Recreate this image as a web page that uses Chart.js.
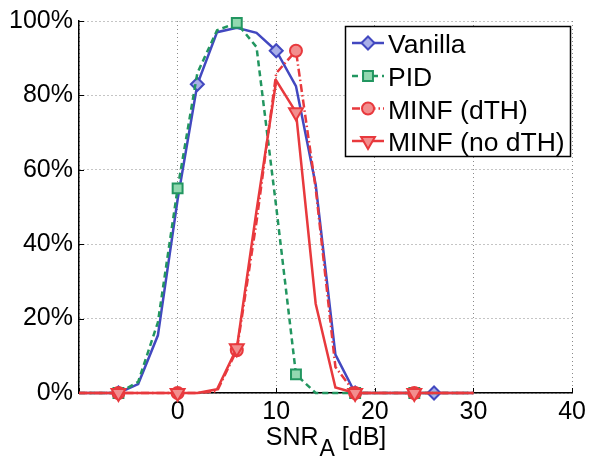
<!DOCTYPE html>
<html>
<head>
<meta charset="utf-8">
<script src="https://cdn.jsdelivr.net/npm/chart.js@4/dist/chart.umd.min.js"></script>
<style>
  html, body { margin: 0; padding: 0; background: #fff; }
  #wrap { width: 590px; height: 456px; }
</style>
</head>
<body>
<div id="wrap"><canvas id="chart" width="590" height="456"></canvas></div>
<script>
// SNR sweep (dB) and detection rate (%) per method
const snrDb = [-10, -8, -6, -4, -2, 0, 2, 4, 6, 8, 10, 12, 14, 16, 18, 20, 22, 24, 26, 28, 30];
const vanillaPct   = [0, 0, 0, 2.4, 15.5, 52, 83, 97, 98.2, 96.8, 92, 82.5, 56, 10.3, 0, 0, 0, 0, 0, 0, 0];
const pidPct       = [0, 0, 0, 3, 19, 55, 86, 97.5, 99.5, 93, 50, 5, 0, 0, 0, 0, 0, 0, 0, 0, 0];
const minfDthPct   = [0, 0, 0, 0, 0, 0, 0, 0.5, 11.5, 46, 86, 92, 55, 7, 0, 0, 0, 0, 0, 0, 0];
const minfNoDthPct = [0, 0, 0, 0, 0, 0, 0, 1, 12, 49, 84, 75.5, 24, 1.5, 0, 0, 0, 0, 0, 0, 0];

// where the markers sit (every few samples, like the source plot)
const vanillaMarkerDb = [-6, 2, 10, 18, 26];
const sixStepMarkerDb = [-6, 0, 6, 12, 18, 24];

const seriesNames = ["Vanilla", "PID", "MINF (dTH)", "MINF (no dTH)"];

const FONT = "'Liberation Sans', Arial, Helvetica, sans-serif";

const styles = [
    { line: "#4248c0", fill: "#a9afe8", dash: [], shape: "diamond", r: 6.5 },
    { line: "#229660", fill: "#92d8b0", dash: [6, 4], shape: "square", r: 7 },
    { line: "#e8393d", fill: "#f28e8e", dash: [8, 3, 1.5, 3], shape: "circle", r: 6 },
    { line: "#e8393d", fill: "#f28e8e", dash: [], shape: "triangleDown", r: 8 },
];

function toPoints(values) {
    return snrDb.map((x, i) => ({ x: x, y: values[i] }));
}

function markerRadius(markers, r) {
    return (ctx) => (ctx.raw && markers.includes(ctx.raw.x) ? r : 0);
}

function makeDataset(idx, values, markers, order) {
    const st = styles[idx];
    return {
        label: seriesNames[idx],
        data: toPoints(values),
        borderColor: st.line,
        borderWidth: 2.5,
        borderDash: st.dash,
        backgroundColor: st.fill,
        pointBackgroundColor: st.fill,
        pointBorderColor: st.line,
        pointBorderWidth: 2,
        pointStyle: st.shape === "diamond" ? "rectRot" : st.shape === "square" ? "rect" : st.shape === "circle" ? "circle" : "triangle",
        pointRotation: st.shape === "triangleDown" ? 180 : 0,
        pointRadius: markerRadius(markers, st.r),
        tension: 0,
        fill: false,
        clip: false,
        order: order,
    };
}

function drawShape(ctx, shape, x, y, r) {
    ctx.beginPath();
    if (shape === "diamond") {
        ctx.moveTo(x - r, y); ctx.lineTo(x, y - r); ctx.lineTo(x + r, y); ctx.lineTo(x, y + r);
        ctx.closePath();
    } else if (shape === "square") {
        const s = r * Math.SQRT1_2;
        ctx.rect(x - s, y - s, 2 * s, 2 * s);
    } else if (shape === "circle") {
        ctx.arc(x, y, r, 0, Math.PI * 2);
    } else {
        const a = r * Math.sin(Math.PI / 3);
        ctx.moveTo(x, y + r); ctx.lineTo(x - a, y - r / 2); ctx.lineTo(x + a, y - r / 2);
        ctx.closePath();
    }
    ctx.fill();
    ctx.stroke();
}

const innerTicksPlugin = {
    id: "innerTicks",
    beforeDatasetsDraw(chart) {
        const { ctx, chartArea, scales } = chart;
        ctx.save();
        ctx.strokeStyle = "#000";
        ctx.lineWidth = 1;
        scales.x.ticks.forEach((t) => {
            const px = Math.round(scales.x.getPixelForValue(t.value)) + 0.5;
            ctx.beginPath();
            ctx.moveTo(px, chartArea.bottom);
            ctx.lineTo(px, chartArea.bottom - 5);
            ctx.stroke();
        });
        scales.y.ticks.forEach((t) => {
            const py = Math.round(scales.y.getPixelForValue(t.value)) + 0.5;
            ctx.beginPath();
            ctx.moveTo(chartArea.left, py);
            ctx.lineTo(chartArea.left + 5, py);
            ctx.stroke();
        });
        ctx.restore();
    },
};

const overlayPlugin = {
    id: "overlay",
    afterDraw(chart) {
        const { ctx, chartArea } = chart;
        ctx.save();

        // x-axis title with subscript
        const big = "25px " + FONT, small = "23px " + FONT;
        ctx.fillStyle = "#000";
        ctx.textBaseline = "alphabetic";
        ctx.textAlign = "left";
        ctx.font = big;
        const wSnr = ctx.measureText("SNR").width;
        const wUnit = ctx.measureText(" [dB]").width;
        ctx.font = small;
        const wSub = ctx.measureText("A").width;
        let x0 = (chartArea.left + chartArea.right) / 2 - (wSnr + wSub + wUnit) / 2;
        ctx.font = big;
        ctx.fillText("SNR", x0, 445);
        ctx.font = small;
        ctx.fillText("A", x0 + wSnr + 1, 456);
        ctx.font = big;
        ctx.fillText(" [dB]", x0 + wSnr + wSub + 1, 445);

        // legend box inside the plot
        const box = { left: 345.5, top: 26.5, right: 570.5, bottom: 156.5 };
        ctx.fillStyle = "#fff";
        ctx.fillRect(box.left, box.top, box.right - box.left, box.bottom - box.top);
        ctx.strokeStyle = "#000";
        ctx.lineWidth = 1.5;
        ctx.strokeRect(box.left, box.top, box.right - box.left, box.bottom - box.top);

        const rowY = [43, 76, 108.5, 141];
        ctx.font = "26.5px " + FONT;
        seriesNames.forEach((name, i) => {
            const st = styles[i];
            const y = rowY[i];
            ctx.strokeStyle = st.line;
            ctx.lineWidth = 2.5;
            ctx.setLineDash(st.dash);
            ctx.beginPath();
            ctx.moveTo(352, y);
            ctx.lineTo(384, y);
            ctx.stroke();
            ctx.setLineDash([]);
            ctx.fillStyle = st.fill;
            ctx.lineWidth = 2;
            drawShape(ctx, st.shape, 368, y, st.r);
            ctx.fillStyle = "#000";
            ctx.fillText(name, 388, y + 10);
        });
        ctx.restore();
    },
};

const tickFont = { family: FONT, size: 25 };

new Chart(document.getElementById("chart"), {
    type: "line",
    data: {
        datasets: [
            makeDataset(0, vanillaPct, vanillaMarkerDb, 4),
            makeDataset(1, pidPct, sixStepMarkerDb, 3),
            makeDataset(2, minfDthPct, sixStepMarkerDb, 2),
            makeDataset(3, minfNoDthPct, sixStepMarkerDb, 1),
        ],
    },
    options: {
        responsive: false,
        animation: false,
        events: [],
        layout: { padding: { left: 0, right: 15, top: 21, bottom: 0 } },
        plugins: { legend: { display: false }, tooltip: { enabled: false } },
        scales: {
            x: {
                type: "linear",
                min: -10,
                max: 40,
                afterFit: (axis) => { axis.height = 63; },
                ticks: {
                    stepSize: 10,
                    color: "#000",
                    font: tickFont,
                    padding: 4,
                    maxRotation: 0,
                    callback: (v) => (v === -10 ? "" : String(v)),
                },
                grid: { color: "#8a8a8a", lineWidth: 1, drawTicks: false },
                border: { display: true, color: "#000", width: 1.5, dash: [1, 3] },
            },
            y: {
                type: "linear",
                min: 0,
                max: 100,
                afterFit: (axis) => { axis.width = 79; },
                ticks: {
                    stepSize: 20,
                    color: "#000",
                    font: tickFont,
                    padding: 6,
                    callback: (v) => v + "%",
                },
                grid: { color: "#8a8a8a", lineWidth: 1, drawTicks: false },
                border: { display: true, color: "#000", width: 1.5, dash: [1, 3] },
            },
        },
    },
    plugins: [innerTicksPlugin, overlayPlugin],
});
</script>
</body>
</html>
